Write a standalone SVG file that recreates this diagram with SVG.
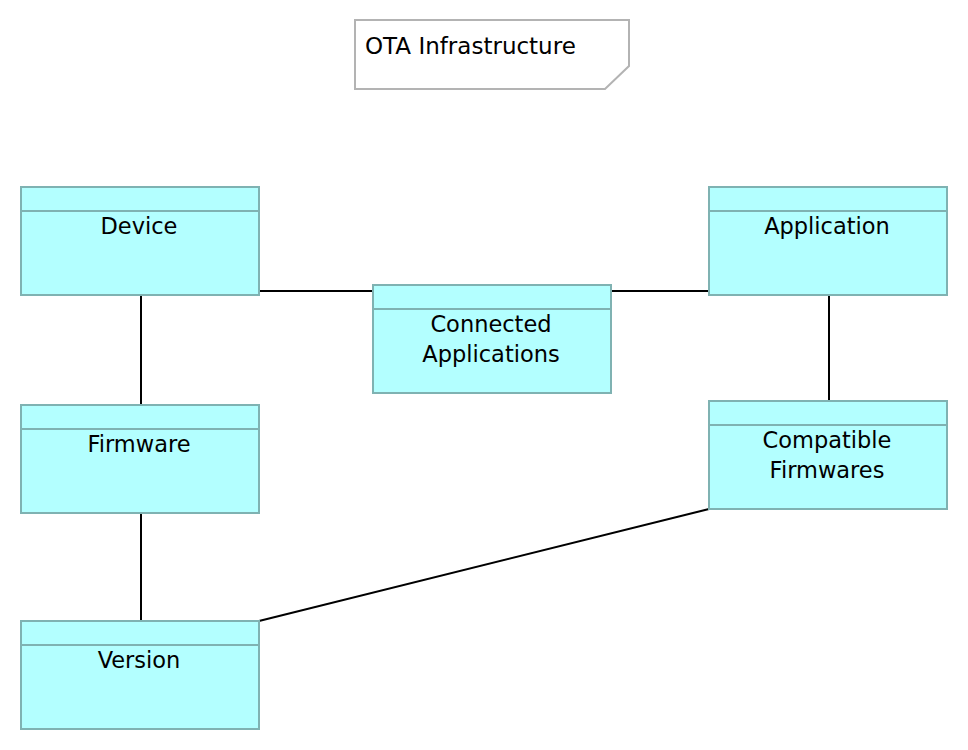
<svg xmlns="http://www.w3.org/2000/svg" width="968" height="750" viewBox="0 0 968 750">
<style>
.box{fill:#b3ffff;stroke:#7fb2b2;stroke-width:2}
.hd{stroke:#7fb2b2;stroke-width:2}
.lbl{font-family:"DejaVu Sans","Verdana",sans-serif;font-size:22.5px;fill:#000;text-anchor:middle}
.note{fill:#fff;stroke:#b3b3b3;stroke-width:2}
.ntx{font-family:"DejaVu Sans","Verdana",sans-serif;font-size:23px;fill:#000}
.edge{stroke:#000;stroke-width:2;fill:none}
</style>
<rect width="968" height="750" fill="#fff"/>
<g id="connectors">
<line class="edge" x1="259" y1="291" x2="373" y2="291"/>
<line class="edge" x1="611" y1="291" x2="709" y2="291"/>
<line class="edge" x1="141" y1="295" x2="141" y2="405"/>
<line class="edge" x1="141" y1="513" x2="141" y2="621"/>
<line class="edge" x1="829" y1="295" x2="829" y2="401"/>
<line class="edge" x1="709" y1="509" x2="259" y2="621"/>
</g>
<g id="note">
<path class="note" d="M355,20 H629 V66 L605,89 H355 Z"/>
<text class="ntx" x="365" y="54">OTA Infrastructure</text>
</g>
<g id="device">
<rect class="box" x="21" y="187" width="238" height="108"/>
<line class="hd" x1="21" y1="211" x2="259" y2="211"/>
<text class="lbl" x="139" y="234">Device</text>
</g>
<g id="application">
<rect class="box" x="709" y="187" width="238" height="108"/>
<line class="hd" x1="709" y1="211" x2="947" y2="211"/>
<text class="lbl" x="827" y="234">Application</text>
</g>
<g id="connected-applications">
<rect class="box" x="373" y="285" width="238" height="108"/>
<line class="hd" x1="373" y1="309" x2="611" y2="309"/>
<text class="lbl" x="491" y="332">Connected</text>
<text class="lbl" x="491" y="362">Applications</text>
</g>
<g id="firmware">
<rect class="box" x="21" y="405" width="238" height="108"/>
<line class="hd" x1="21" y1="429" x2="259" y2="429"/>
<text class="lbl" x="139" y="452">Firmware</text>
</g>
<g id="compatible-firmwares">
<rect class="box" x="709" y="401" width="238" height="108"/>
<line class="hd" x1="709" y1="425" x2="947" y2="425"/>
<text class="lbl" x="827" y="448">Compatible</text>
<text class="lbl" x="827" y="478">Firmwares</text>
</g>
<g id="version">
<rect class="box" x="21" y="621" width="238" height="108"/>
<line class="hd" x1="21" y1="645" x2="259" y2="645"/>
<text class="lbl" x="139" y="668">Version</text>
</g>
</svg>
